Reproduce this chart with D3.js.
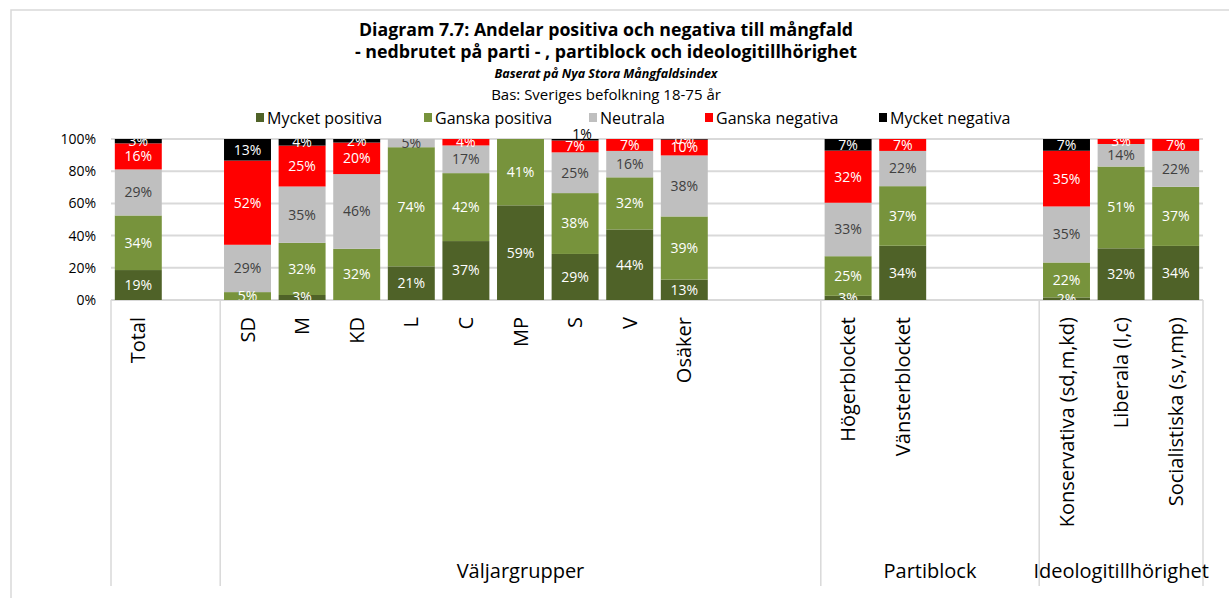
<!DOCTYPE html>
<html>
<head>
<meta charset="utf-8">
<script src="https://cdn.jsdelivr.net/npm/d3@7/dist/d3.min.js"></script>
<style>
  body { margin: 0; background: #fff; }
  svg { display: block; font-family: "Open Sans", "Noto Sans", sans-serif; }
</style>
</head>
<body>
<div id="chart"></div>
<script>
// categories (blank strings are the empty gaps between groups)
var categories = ["Total", "", "SD", "M", "KD", "L", "C", "MP", "S", "V", "Osäker", "", "",
    "Högerblocket", "Vänsterblocket", "", "", "Konservativa (sd,m,kd)", "Liberala (l,c)", "Socialistiska (s,v,mp)"]

var groupNames = ["", "Väljargrupper", "Partiblock", "Ideologitillhörighet"]
var groupStart = [0, 2, 13, 17]
var groupEnd = [1, 12, 16, 19]

var seriesNames = ["Mycket positiva", "Ganska positiva", "Neutrala", "Ganska negativa", "Mycket negativa"]
var seriesColors = ["#4f6228", "#77933c", "#bfbfbf", "#ff0000", "#000000"]
var labelColors = ["#ffffff", "#ffffff", "#404040", "#ffffff", "#ffffff"]

// shares in percent
var mycketPositiva = [18.6, null, 0, 3.1, 0, 20.9, 36.6, 58.8, 28.6, 43.8, 12.7, null, null, 2.6, 33.7, null, null, 1.6, 32.1, 33.6]
var ganskaPositiva = [33.9, null, 4.9, 32.4, 31.8, 74.0, 42.2, 41.2, 37.8, 32.4, 39.2, null, null, 24.6, 37.0, null, null, 21.7, 50.8, 36.7]
var neutrala       = [28.6, null, 29.4, 35.0, 46.4, 5.1, 17.2, 0, 25.3, 16.4, 37.9, null, null, 33.2, 21.9, null, null, 34.8, 14.0, 22.3]
var ganskaNegativa = [16.2, null, 52.3, 25.4, 19.6, 0, 4.0, 0, 7.4, 7.4, 9.8, null, null, 32.4, 7.4, null, null, 34.6, 3.1, 7.4]
var mycketNegativa = [2.7, null, 13.4, 4.1, 2.2, 0, 0, 0, 0.9, 0, 0.4, null, null, 7.2, 0, null, null, 7.3, 0, 0]

var yTicks = [0, 20, 40, 60, 80, 100]
// bars whose tiny top label sits above the bar
var labelAbove = ["S"]

var allSeries = [mycketPositiva, ganskaPositiva, neutrala, ganskaNegativa, mycketNegativa]

var W = 1229, H = 598
var plot = {left: 111, right: 1203, top: 139, bottom: 300}

var svg = d3.select("#chart").append("svg")
    .attr("width", W)
    .attr("height", H)

// outer chart frame
svg.append("rect")
    .attr("x", 11).attr("y", 10)
    .attr("width", W + 20).attr("height", H + 20)
    .attr("fill", "none")
    .attr("stroke", "#d9d9d9")
    .attr("stroke-width", 1.5)

// titles
var cx = 606
svg.append("text").attr("x", cx).attr("y", 36)
    .attr("text-anchor", "middle").attr("font-weight", "bold").attr("font-size", 17)
    .attr("textLength", 494).attr("lengthAdjust", "spacingAndGlyphs")
    .text("Diagram 7.7: Andelar positiva och negativa till mångfald")
svg.append("text").attr("x", cx).attr("y", 58)
    .attr("text-anchor", "middle").attr("font-weight", "bold").attr("font-size", 17)
    .attr("textLength", 502).attr("lengthAdjust", "spacingAndGlyphs")
    .text("- nedbrutet på parti - , partiblock och ideologitillhörighet")
svg.append("text").attr("x", cx).attr("y", 78)
    .attr("text-anchor", "middle").attr("font-weight", "bold").attr("font-style", "italic")
    .attr("font-size", 12.5)
    .text("Baserat på Nya Stora Mångfaldsindex")
svg.append("text").attr("x", cx).attr("y", 100)
    .attr("text-anchor", "middle").attr("font-size", 15)
    .text("Bas: Sveriges befolkning 18-75 år")

// legend
var legendX = [256, 424, 589, 705, 879]
var legend = svg.append("g")
seriesNames.forEach(function(name, i) {
    var g = legend.append("g").attr("transform", "translate(" + legendX[i] + ",118)")
    g.append("rect").attr("x", 0).attr("y", -5).attr("width", 8).attr("height", 9)
        .attr("fill", seriesColors[i])
    g.append("text").attr("x", 11).attr("dy", "0.35em")
        .attr("font-size", 16).text(name)
})

// scales
var x = d3.scaleBand()
    .domain(d3.range(categories.length))
    .range([plot.left, plot.right])
    .paddingInner(0.14)
    .paddingOuter(0.07)

var y = d3.scaleLinear()
    .domain([0, 100])
    .range([plot.bottom, plot.top])

// gridlines
svg.append("g")
    .selectAll("line")
    .data(yTicks)
    .enter()
    .append("line")
    .attr("x1", plot.left).attr("x2", plot.right)
    .attr("y1", d => y(d)).attr("y2", d => y(d))
    .attr("stroke", "#d9d9d9").attr("stroke-width", 2)

// y axis labels
var yAxis = svg.append("g")
    .attr("transform", "translate(" + (plot.left - 15) + ",0)")
    .call(d3.axisLeft(y).tickValues(yTicks).tickSize(0).tickFormat(d => d + "%"))
yAxis.select(".domain").remove()
yAxis.selectAll("text").attr("font-size", 14).attr("fill", "#000")
    .attr("font-family", "Open Sans").attr("x", 0)

// stack the table
var table = categories.map(function(c, i) {
    var row = {idx: i, cat: c}
    seriesNames.forEach(function(s, j) { row[s] = allSeries[j][i] || 0 })
    return row
})
var stacked = d3.stack().keys(seriesNames)(table)

svg.append("clipPath").attr("id", "plotclip")
    .append("rect")
    .attr("x", plot.left).attr("y", plot.top)
    .attr("width", plot.right - plot.left).attr("height", plot.bottom - plot.top)

var layers = svg.append("g")
    .selectAll("g")
    .data(stacked)
    .enter()
    .append("g")
    .attr("fill", (d, i) => seriesColors[i])

layers.selectAll("rect")
    .data(d => d.filter(p => p[1] - p[0] > 0))
    .enter()
    .append("rect")
    .attr("x", d => x(d.data.idx))
    .attr("width", x.bandwidth())
    .attr("y", d => y(d[1]))
    .attr("height", d => y(d[0]) - y(d[1]))

// data labels
var labels = svg.append("g").attr("clip-path", "url(#plotclip)")
var outside = svg.append("g")
stacked.forEach(function(layer, i) {
    layer.forEach(function(p) {
        var v = allSeries[i][p.data.idx]
        if (!(v > 0)) return
        var txt = Math.round(v) + "%"
        var px = x(p.data.idx) + x.bandwidth() / 2
        if (i === 4 && labelAbove.indexOf(p.data.cat) >= 0) {
            outside.append("text")
                .attr("x", px + 7).attr("y", y(100) - 5)
                .attr("text-anchor", "middle").attr("dy", "0.35em")
                .attr("font-size", 14).attr("fill", "#000")
                .text(txt)
            return
        }
        labels.append("text")
            .attr("x", px)
            .attr("y", y((p[0] + p[1]) / 2))
            .attr("dy", "0.35em")
            .attr("text-anchor", "middle")
            .attr("font-size", 14)
            .attr("fill", labelColors[i])
            .text(txt)
    })
})

// multi-level category axis
var axisBottom = 586
var step = x.step()
var edges = groupStart.map(s => x(s) - x.paddingOuter() * step)
edges.push(x(groupEnd[groupEnd.length - 1]) + x.bandwidth() + x.paddingOuter() * step)

svg.append("g")
    .selectAll("line")
    .data(edges)
    .enter()
    .append("line")
    .attr("x1", d => d).attr("x2", d => d)
    .attr("y1", plot.bottom).attr("y2", axisBottom)
    .attr("stroke", "#d9d9d9").attr("stroke-width", 1.5)

svg.append("g")
    .selectAll("text")
    .data(table.filter(d => d.cat !== ""))
    .enter()
    .append("text")
    .attr("transform", d => "translate(" + (x(d.idx) + x.bandwidth() / 2) + "," + (plot.bottom + 17) + ") rotate(-90)")
    .attr("text-anchor", "end")
    .attr("dy", "0.35em")
    .attr("font-size", 20)
    .text(d => d.cat)

svg.append("g")
    .selectAll("text")
    .data(groupNames.map((n, i) => ({name: n, i: i})).filter(d => d.name !== ""))
    .enter()
    .append("text")
    .attr("x", d => (edges[d.i] + edges[d.i + 1]) / 2)
    .attr("y", 578)
    .attr("text-anchor", "middle")
    .attr("font-size", 20)
    .text(d => d.name)
</script>
</body>
</html>
